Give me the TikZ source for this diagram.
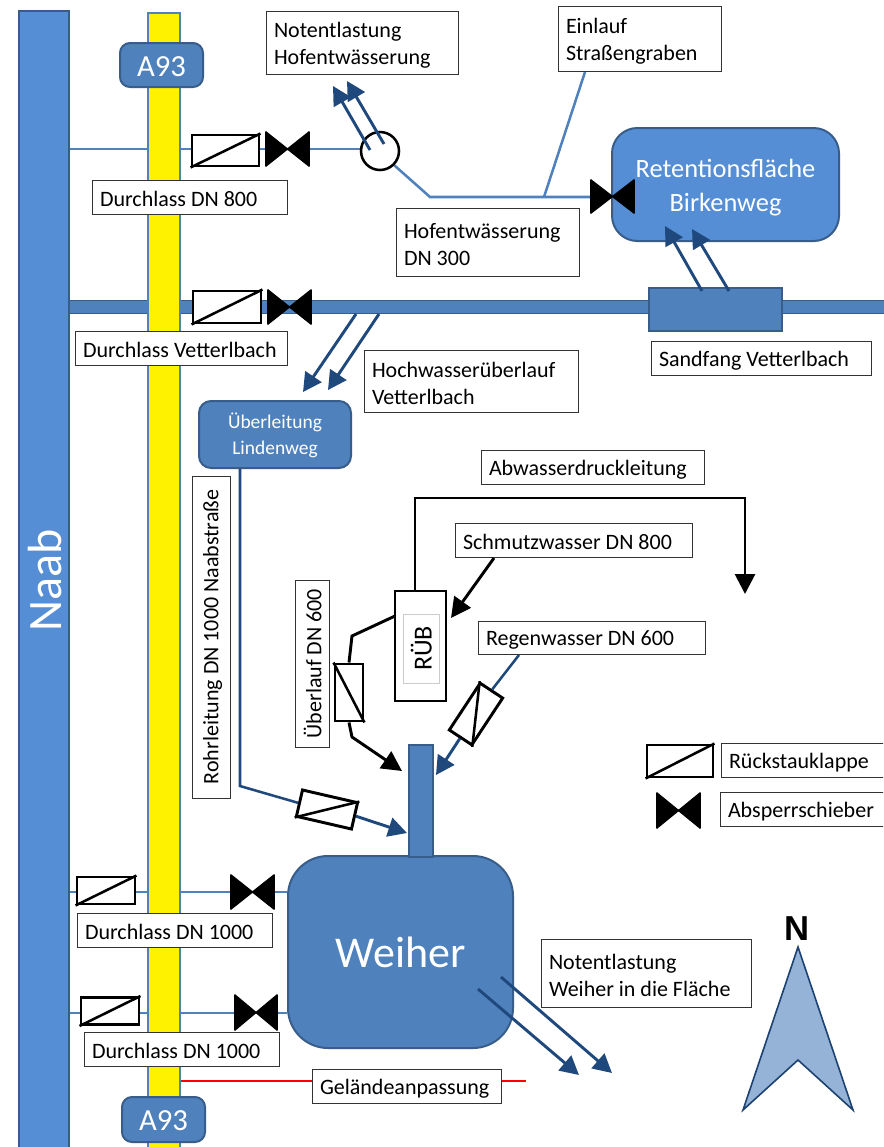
\documentclass[tikz,border=0pt]{standalone}
\usepackage{fontspec}
\setmainfont{Carlito}
\newfontfamily\arialfont{Liberation Sans}
\usetikzlibrary{arrows.meta,backgrounds}
\definecolor{lightblue}{HTML}{558ED5}
\definecolor{midblue}{HTML}{4F81BD}
\definecolor{edgeblue}{HTML}{385D8A}
\definecolor{darkblue}{HTML}{1F497D}
\definecolor{northfill}{HTML}{95B3D7}
\pgfdeclarelayer{lines}
\pgfsetlayers{lines,main}
\tikzset{
  x=0.75pt,y=-0.75pt,
  labelbox/.style={draw=black!80,line width=0.75pt,fill=white,inner sep=0pt,font=\fontsize{16.5}{20.25}\selectfont},
  bluebox/.style={draw=edgeblue,line width=1.5pt,fill=midblue,text=white,inner sep=0pt},
  flapbox/.style={draw=black,line width=2.2pt,fill=white,inner sep=0pt},
  valvebox/.style={inner sep=0pt},
  thinpipe/.style={draw=midblue,line width=1.9pt},
  mainpipe/.style={draw=edgeblue,line width=0.9pt,double=midblue,double distance=8.6pt},
  darkarrow/.style={draw=darkblue,line width=2.2pt,-{Triangle[length=14pt,width=14.5pt]}},
  darkpipe/.style={draw=darkblue,line width=1.9pt},
  blackline/.style={draw=black,line width=2.2pt},
  blackarrow/.style={draw=black,line width=2.2pt,-{Triangle[length=15pt,width=15pt]}},
}
% box from pixel corners: style, name, x1, y1, x2, y2, text
\newcommand\bx[7]{\node[#1,minimum width={(#5-#3)*0.75pt},minimum height={(#6-#4)*0.75pt}] (#2) at ({(#3+#5)/2},{(#4+#6)/2}) {#7};}
% left-aligned label
\newcommand\lab[6]{\node[labelbox,minimum width={(#4-#2)*0.75pt},minimum height={(#5-#3)*0.75pt},text width={(#4-#2-16)*0.75pt},align=flush left] (#1) at ({(#2+#4)/2},{(#3+#5)/2}) {\rule{0pt}{15pt}#6};}
% rotated label: name, cx, cy, length, thickness, text
\newcommand\rotlab[6]{\node[labelbox,rotate=90,minimum width={#4*0.75pt},minimum height={#5*0.75pt}] (#1) at (#2,#3) {\rule{0pt}{14pt}#6};}
% flap: name, cx, cy, w, h, rotation, diagonal end 1, diagonal end 2
\newcommand\flap[8]{\node[flapbox,rotate=#6,minimum width={#4*0.75pt},minimum height={#5*0.75pt}] (#1) at (#2,#3) {};
  \draw[black,line width=1.9pt] (#1.#7) -- (#1.#8);}
% valve: name, x1, y1, x2, y2
\newcommand\valve[5]{\bx{valvebox}{#1}{#2}{#3}{#4}{#5}{}
  \filldraw[black,line width=1pt,line join=bevel] (#1.north west) -- (#1.south east) -- (#1.north east) -- (#1.south west) -- cycle;}
\begin{document}
\begin{tikzpicture}
\useasboundingbox (0,0) rectangle (883,1147);
\clip (0,0) rectangle (883,1147);
\begin{pgfonlayer}{lines}
\fill[white] (0,0) rectangle (883,1147);
\end{pgfonlayer}

% long bands
\bx{draw=edgeblue,line width=1.5pt,fill=lightblue,inner sep=0pt}{naab}{19}{11}{69}{1160}{}
\node[rotate=90,text=white,font=\fontsize{36}{36}\selectfont] at (45,580) {Naab};
\bx{draw=midblue,line width=1.5pt,fill=yellow,inner sep=0pt}{road}{148}{13}{180}{1160}{}
\bx{bluebox,rounded corners=7.5pt,font=\fontsize{23}{23}\selectfont}{atop}{120}{43}{203}{87}{\rule{0pt}{17pt}A93}
\bx{bluebox,rounded corners=7.5pt,font=\fontsize{23}{23}\selectfont}{abot}{122}{1097}{205}{1142}{\rule{0pt}{17pt}A93}

% water bodies
\bx{bluebox,fill=lightblue,rounded corners=19pt,align=center,font=\fontsize{19.8}{25}\selectfont}{ret}{612}{128}{839}{241}{\rule{0pt}{18.5pt}Retentionsfläche\\Birkenweg}
\bx{bluebox,rounded corners=30pt,font=\fontsize{33}{33}\selectfont}{weiher}{288}{856}{513}{1048}{Weiher}
\bx{bluebox,line width=0.9pt,inner sep=0pt}{stub}{409}{745}{433}{857}{}
\bx{bluebox,rounded corners=9pt,align=center,font=\fontsize{14.6}{19.5}\selectfont}{ueber}{199}{401}{351}{468}{\rule{0pt}{13pt}Überleitung\\Lindenweg}
\bx{bluebox,line width=0.9pt}{sand}{649}{288}{782}{331}{}

% fittings
\flap{fA}{225.5}{150.5}{67}{31}{0}{south west}{north east}
\valve{vA}{266}{132}{309}{166}
\node[draw=black,line width=1.9pt,fill=white,circle,inner sep=0pt,minimum size=28.5pt] (hof) at (380,151) {};
\flap{fB}{227}{307}{68}{32}{0}{south west}{north east}
\valve{vB}{268}{290}{311}{324}
\valve{vC}{591}{180}{634}{213}
\flap{fC}{106}{890.5}{58}{27}{0}{south west}{north east}
\valve{vD}{231}{875}{274}{909}
\flap{fD}{110}{1011}{58}{27}{0}{south west}{north east}
\valve{vE}{235}{995}{277}{1030}
\flap{fE}{327}{809.5}{56.5}{27}{-13}{south west}{north east}
\flap{fF}{349}{692.5}{28}{57}{0}{north west}{south east}
\flap{fG}{476}{714}{56}{27}{56.6}{south west}{north east}

% RUEB
\bx{draw=black,line width=2.2pt,fill=white,inner sep=0pt}{rub}{395}{591}{446}{701}{}
\node[draw=black!20,line width=0.7pt,fill=white,rotate=90,minimum width=51.75pt,minimum height=27pt,inner sep=0pt,font=\fontsize{19.5}{19.5}\selectfont] (rubtxt) at (421,648.5) {\rule{0pt}{16pt}RÜB};

% labels
\lab{lNot}{266}{11}{458}{74}{Notentlastung\\Hofentwässerung}
\lab{lEin}{558}{6}{721}{71}{Einlauf\\Straßengraben}
\lab{lDN8}{92}{180}{287}{214}{Durchlass DN 800}
\lab{lHof}{396}{208}{579}{276}{Hofentwässerung\\DN 300}
\lab{lVet}{75}{331}{287}{365}{Durchlass Vetterlbach}
\lab{lSand}{651}{341}{871}{375}{Sandfang Vetterlbach}
\lab{lHoch}{364}{350}{578}{412}{Hochwasserüberlauf\\Vetterlbach}
\lab{lAbw}{481}{450}{704}{484}{Abwasserdruckleitung}
\lab{lSch}{455}{523}{692}{557}{Schmutzwasser DN 800}
\lab{lReg}{478}{621}{705}{654}{Regenwasser DN 600}
\rotlab{lRohr}{211}{637}{322}{38}{Rohrleitung DN 1000 Naabstraße}
\rotlab{lUeb}{312}{663.5}{167}{34}{Überlauf DN 600}
\lab{lD1}{77}{913}{272}{947}{Durchlass DN 1000}
\lab{lD2}{84}{1032}{279}{1066}{Durchlass DN 1000}
\lab{lGel}{312}{1069}{501}{1103}{Geländeanpassung}
\lab{lWei}{541}{939}{751}{1007}{Notentlastung\\Weiher in die Fläche}
\lab{lRue}{721}{743}{890}{777}{Rückstauklappe}
\lab{lAbs}{720}{792}{890}{826}{Absperrschieber}

% legend
\flap{fL}{680}{761}{66}{32}{0}{south west}{north east}
\valve{vL}{657}{793}{700}{828}

% north arrow
\coordinate (nTip) at (798,947);
\coordinate (nR) at (853,1110);
\coordinate (nM) at (798,1060);
\coordinate (nL) at (743,1110);
\draw[draw=darkblue!90!black,line width=1.2pt,fill=northfill,line join=miter] (nTip) -- (nR) -- (nM) -- (nL) -- cycle;
\node[font=\arialfont\bfseries\fontsize{26}{26}\selectfont,inner sep=0pt] (nLab) at (797,929) {N};

% free ends
\coordinate (eR) at (890,307);
\coordinate (kHof) at (430,197);
\coordinate (jEin) at (544,197);
\coordinate (kEin) at (585,72);
\coordinate (hofA) at (370,150);
\coordinate (hofB) at (384,144);
\coordinate (tHofA) at (333,86);
\coordinate (tHofB) at (347,81);
\coordinate (sA) at (702,291);
\coordinate (sB) at (729,291);
\coordinate (tRA) at (665,226);
\coordinate (tRB) at (692,229);
\coordinate (mA) at (356,314);
\coordinate (mB) at (379,314);
\coordinate (tHA) at (303,392);
\coordinate (tHB) at (328,390);
\coordinate (kR1) at (240,786);
\coordinate (tStub1) at (407,833);
\coordinate (kA1) at (745,498);
\coordinate (kA2) at (415,498);
\coordinate (tA) at (745,594);
\coordinate (sS) at (494,558);
\coordinate (tS) at (451,618);
\coordinate (rO) at (395,616);
\coordinate (kO1) at (352,636);
\coordinate (kO2) at (352,737);
\coordinate (tO) at (402,771);
\coordinate (sR) at (519,655);
\coordinate (tR) at (436,775);
\coordinate (wA) at (478,989);
\coordinate (wB) at (501,977);
\coordinate (tWA) at (579,1075);
\coordinate (tWB) at (612,1073);
\coordinate (gE) at (526,1081);
\coordinate (gS) at (181,1081);

% connectors
\begin{pgfonlayer}{lines}
\draw[thinpipe] (naab.east |- 0,149) -- (fA.west |- 0,149);
\draw[thinpipe] (fA.east |- 0,149) -- (vA.west |- 0,149);
\draw[thinpipe] (vA.east |- 0,149) -- (hof.west |- 0,149);
\draw[thinpipe] (hof.south east) -- (kHof) -- (vC.west |- kHof);
\draw[thinpipe] (kEin) -- (jEin);
\draw[mainpipe] (naab.east |- 0,307) -- (eR);
\draw[thinpipe] (naab.east |- 0,892) -- (fC.west |- 0,892);
\draw[thinpipe] (fC.east |- 0,892) -- (vD.west |- 0,892);
\draw[thinpipe] (vD.east |- 0,892) -- (weiher.west |- 0,892);
\draw[thinpipe] (naab.east |- 0,1013) -- (fD.west |- 0,1013);
\draw[thinpipe] (fD.east |- 0,1013) -- (vE.west |- 0,1013);
\draw[thinpipe] (vE.east |- 0,1013) -- (weiher.west |- 0,1013);
\end{pgfonlayer}
\draw[darkarrow] (hofA) -- (tHofA);
\draw[darkarrow] (hofB) -- (tHofB);
\draw[darkarrow] (sA) -- (tRA);
\draw[darkarrow] (sB) -- (tRB);
\draw[darkarrow] (mA) -- (tHA);
\draw[darkarrow] (mB) -- (tHB);
\draw[darkpipe] (ueber.south -| 240,0) -- (kR1) -- (fE.west);
\draw[darkarrow] (fE.east) -- (tStub1);
\draw[blackarrow] (rub.north -| kA2) -- (kA2) -- (kA1) -- (tA);
\draw[blackarrow] (sS) -- (tS);
\draw[blackline] (rO) -- (kO1) -- (fF.north);
\draw[blackarrow] (fF.south) -- (kO2) -- (tO);
\draw[darkpipe] (sR) -- (fG.east);
\draw[darkarrow] (fG.west) -- (tR);
\draw[darkarrow] (wA) -- (tWA);
\draw[darkarrow] (wB) -- (tWB);
\draw[draw=red,line width=2.2pt] (gS) -- (lGel.west |- gS);
\draw[draw=red,line width=2.2pt] (lGel.east |- gE) -- (gE);
\end{tikzpicture}
\end{document}
